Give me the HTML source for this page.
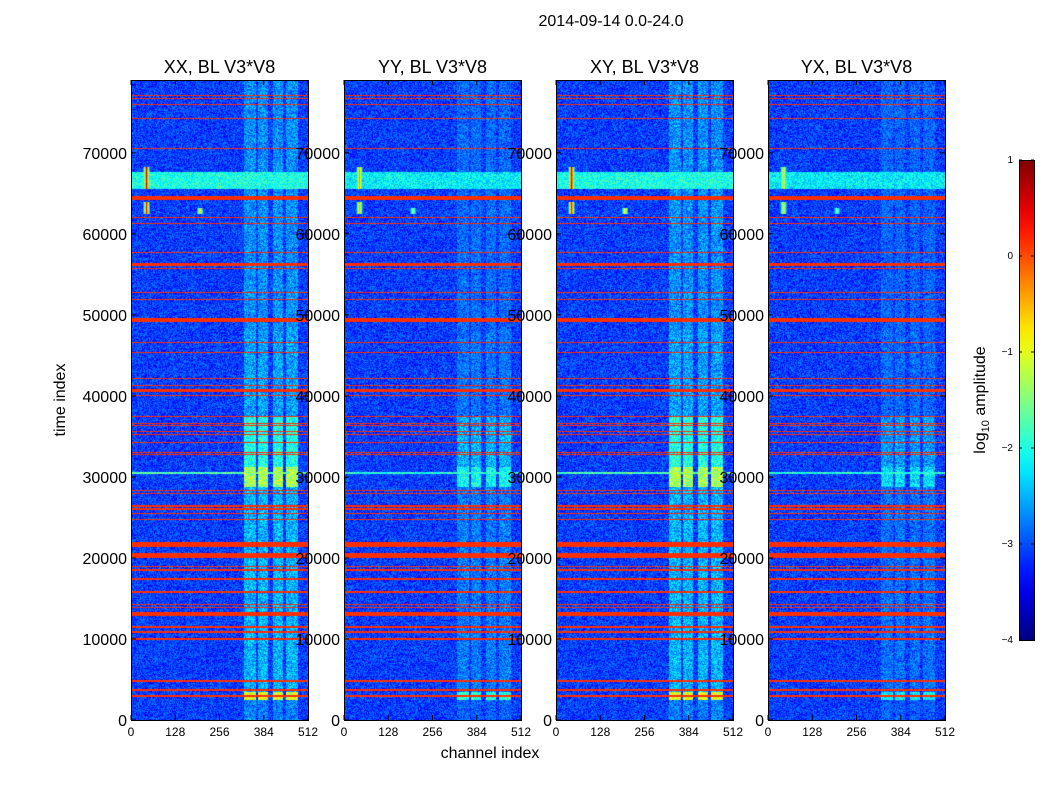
<!DOCTYPE html>
<html><head><meta charset="utf-8">
<style>
body{margin:0;background:#fff;width:1050px;height:800px;position:relative;overflow:hidden;font-family:"Liberation Sans","DejaVu Sans",sans-serif;}
.abs{position:absolute;white-space:nowrap;}
canvas{position:absolute;z-index:1;}
#svg{z-index:2;}
</style></head>
<body>
<div class="abs" style="left:511px;top:13px;width:200px;text-align:center;font-size:16px;">2014-09-14 0.0-24.0</div>
<svg id="svg" width="1050" height="800" style="position:absolute;left:0;top:0"></svg>
<script>
// ---- data ----
const panelTitles = ["XX, BL V3*V8","YY, BL V3*V8","XY, BL V3*V8","YX, BL V3*V8"];
const panelLeft = [131,344,556,768];
const bandScale = [1.0,0.6,1.0,0.5];
const spotScale = [1.0,0.75,1.0,0.65];
const timeMax = 79000;
const chanMax = 512;
const yTicks = [0,10000,20000,30000,40000,50000,60000,70000];
const xTicks = [0,128,256,384,512];
const cbTicks = [1,0,-1,-2,-3,-4];
// RFI rows: [start time, end time]
const rfiRows = [[77050,77200],[76690,76830],[75950,76090],[74220,74360],[70520,70660],[64200,64620],[62000,62140],[61260,61400],[57680,57820],[56080,56460],[55710,55850],[52750,52890],[51880,52020],[49150,49570],[46580,46720],[45340,45480],[42130,42270],[41270,41410],[40530,40910],[40030,40170],[37440,37580],[36580,36720],[36330,36470],[35590,35730],[35220,35360],[34230,34370],[33000,33140],[32750,32890],[28310,28450],[27940,28080],[26340,26480],[25970,26110],[25470,25610],[24730,24870],[21400,22000],[20000,20600],[18930,19070],[18440,18580],[17330,17470],[15730,15870],[14240,14380],[13870,14010],[13130,13270],[12890,13030],[11410,11550],[10790,10930],[9930,10070],[4740,4880],[3630,3770],[2890,3030]];
// bright channel bands [ch start, ch end]
const chanBands = [[327,362],[367,396],[410,440],[448,483]];
// band intensity by time segment [t start, t end, value]
const bandLevels = [[0,2500,-2.8],[2500,3400,-1.0],[3400,28800,-2.5],[28800,31200,-1.3],[31200,37500,-2.0],[37500,48000,-2.6],[48000,79000,-2.7]];
// horizontal bright band [t start, t end, value]
const timeBands = [[65600,67600,-2.0],[30400,30600,-1.7]];
// spot [channel, t start, t end, value]
const spots = [[45,65500,68300,0.6],[45,62500,64000,0.4],[200,62400,63200,-0.6]];
</script>
<script>
const NS="http://www.w3.org/2000/svg";
const svg=document.getElementById('svg');
const PT=80,PB=720,PW=177;
function yPix(t){return PB-(t/timeMax)*(PB-PT);}
function xPix(c,p){return panelLeft[p]+(c/chanMax)*PW;}
function jet(x){const c=v=>Math.max(0,Math.min(1,v));return [c(1.5-Math.abs(4*x-3)),c(1.5-Math.abs(4*x-2)),c(1.5-Math.abs(4*x-1))];}
function hash(a,b,c){let h=(a*374761393+b*668265263+c*2147483647)|0;h=(h^(h>>>13))*1274126177|0;h^=h>>>16;return (h>>>0)/4294967296;}
function mk(tag,attrs,txt){const e=document.createElementNS(NS,tag);for(const k in attrs)e.setAttribute(k,attrs[k]);if(txt!==undefined)e.textContent=txt;svg.appendChild(e);return e;}
panelLeft.forEach((L,p)=>{
  const cv=document.createElement('canvas');
  
  
  cv.width=PW;cv.height=PB-PT;cv.style.left=L+'px';cv.style.top=PT+'px';
  document.body.appendChild(cv);
  const ctx=cv.getContext('2d');const img=ctx.createImageData(PW,PB-PT);
  for(let y=0;y<PB-PT;y++){
    const t=(PB-PT-y-0.5)/(PB-PT)*timeMax;
    let rowRfi=rfiRows.some(r=>t>=r[0]&&t<=r[1]);
    let tb=null;timeBands.forEach(b=>{if(t>=b[0]&&t<=b[1])tb=b[2];});
    let bl=-2.6;bandLevels.forEach(b=>{if(t>=b[0]&&t<b[1])bl=b[2];});
    for(let x=0;x<PW;x++){
      const c=(x+0.5)/PW*chanMax;
      const n=hash(x,y,p);
      const n2=hash(y,x+7,p+3);
      let v=-3.45+n*0.75;
      if(chanBands.some(b=>c>=b[0]&&c<=b[1])){const bv=-3.3+(bl+3.3)*bandScale[p];v=Math.max(v,bv+n2*0.9-0.45);}
      if(tb!==null){const s=p%2===0?1:0.85;v=Math.max(v,-3.3+(tb+3.3)*s+n2*0.8-0.4);}
      spots.forEach(s=>{if(t>=s[1]&&t<=s[2]){const d=Math.abs(c-s[0]);if(d<9)v=Math.max(v,-3+(s[3]+3)*spotScale[p]*(1-d/10)+n*0.4-0.2);}});
      if(rowRfi)v=0.15;
      const col=jet((v+4)/5);const i=(y*PW+x)*4;
      img.data[i]=col[0]*255;img.data[i+1]=col[1]*255;img.data[i+2]=col[2]*255;img.data[i+3]=255;
    }
  }
  ctx.putImageData(img,0,0);
  const fr=mk('rect',{x:L+0.5,y:PT+0.5,width:PW,height:PB-PT,fill:'none',stroke:'#000','stroke-width':1});
  
  const tt=mk('text',{x:L+PW/2,y:73,'text-anchor':'middle','font-size':18},panelTitles[p]);
  
  yTicks.forEach(v=>{const y=yPix(v);
    const tk=mk('path',{d:`M${L} ${y}h5M${L+PW} ${y}h-5`,stroke:'#000'});
    
    const lb=mk('text',{x:L-4,y:y+6,'text-anchor':'end','font-size':16},String(v));
    });
  xTicks.forEach(v=>{const x=xPix(v,p);
    const tk=mk('path',{d:`M${x} ${PB}v-5M${x} ${PT}v5`,stroke:'#000'});
    
    const lb=mk('text',{x:x,y:736,'text-anchor':'middle','font-size':12},String(v));
    });
});
const xl=mk('text',{x:490,y:758,'text-anchor':'middle','font-size':16},'channel index');

const yl=mk('text',{x:65,y:400,'text-anchor':'middle','font-size':16,transform:'rotate(-90 65 400)'},'time index');

// colorbar
const defs=mk('defs',{});const g=document.createElementNS(NS,'linearGradient');g.setAttribute('id','jetg');g.setAttribute('x1','0');g.setAttribute('y1','1');g.setAttribute('x2','0');g.setAttribute('y2','0');
for(let i=0;i<=20;i++){const c=jet(i/20);const s=document.createElementNS(NS,'stop');s.setAttribute('offset',i/20);s.setAttribute('stop-color',`rgb(${c.map(v=>Math.round(v*255)).join(',')})`);g.appendChild(s);}
defs.appendChild(g);
const cb=mk('rect',{x:1019.5,y:160.5,width:15,height:480,fill:'url(#jetg)',stroke:'#000'});

cbTicks.forEach(v=>{const y=640-(v+4)/5*480;
  const tk=mk('path',{d:`M1019 ${y}h3M1034 ${y}h-3`,stroke:'#000'});
  
  const lb=mk('text',{x:1013,y:y+3,'text-anchor':'end','font-size':10},v<0?'\u2212'+(-v):String(v));
  });
const cl=mk('text',{x:985,y:400,'text-anchor':'middle','font-size':16,transform:'rotate(-90 985 400)'});

cl.innerHTML='log<tspan font-size="11" dy="4">10</tspan><tspan dy="-4"> amplitude</tspan>';
</script>
</body></html>
